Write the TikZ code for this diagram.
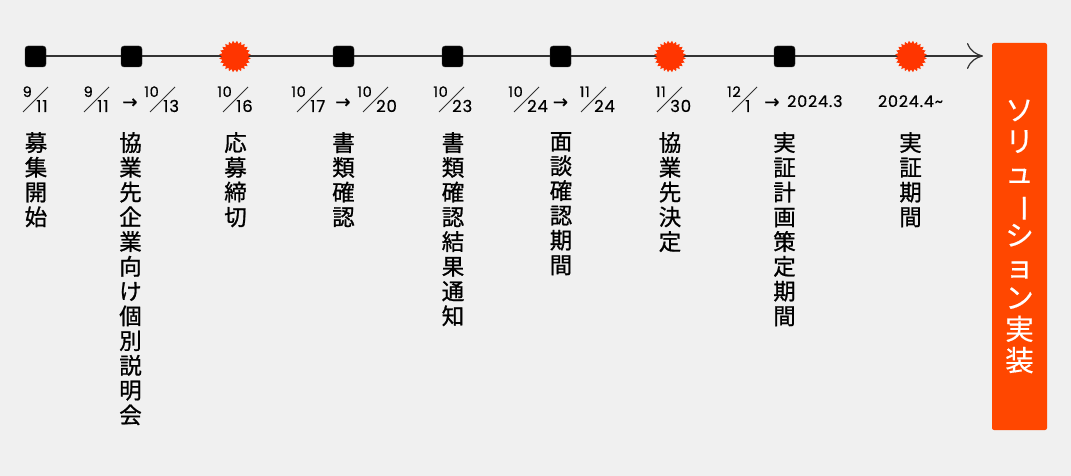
\documentclass[tikz,border=0pt]{standalone}
\usepackage{fontspec}
\setmainfont{Poppins}
\newfontfamily\cjkfont{Noto Sans CJK JP}[FakeBold=0.9]
\newfontfamily\cjkwhite{Noto Sans CJK JP}[FakeBold=0.4]
\newfontfamily\arrowfont{DejaVu Sans}[FakeBold=0.8]
\newfontfamily\digitfont{Poppins}[FakeBold=0.6, LetterSpace=5, Numbers=Monospaced]
\usetikzlibrary{shapes.geometric,arrows.meta}
\definecolor{bgc}{HTML}{F0F0F0}
\definecolor{burstc}{HTML}{FF3500}
\definecolor{boxc}{HTML}{FF4700}
\definecolor{linec}{HTML}{333333}
\tikzset{
  sq/.style={fill=black, draw=black!80, rounded corners=3pt, minimum size=21pt, inner sep=0pt},
  burst/.style={star, star points=24, star point ratio=0.82, fill=burstc, minimum size=26pt, inner sep=0pt},
  numtop/.style={font=\digitfont\fontsize{14.5}{14.5}\selectfont, inner sep=0pt},
  numbot/.style={font=\digitfont\fontsize{16.5}{16.5}\selectfont, inner sep=0pt},
  yeartxt/.style={font=\digitfont\fontsize{16}{16}\selectfont, inner sep=0pt},
  slashline/.style={draw=linec, line width=0.8pt},
  arr/.style={font=\arrowfont\fontsize{18}{18}\selectfont, inner sep=0pt, anchor=base},
  vt/.style={font=\cjkfont\fontsize{22.5}{24.75}\selectfont, align=center, inner sep=0pt, anchor=north},
  mainline/.style={draw=linec, line width=1.2pt},
}
\newcommand\datefrac[4]{%
  \node[numtop, anchor=base east] (#1n) at (#2+9,97) {#3};
  \node[numbot, anchor=base west] (#1d) at (#2+13,112) {#4};
  \coordinate (#1a) at (#2,112);
  \coordinate (#1b) at (#2+25,87);
  \draw[slashline] (#1a) -- (#1b);
}
\begin{document}
\begin{tikzpicture}[x=1pt,y=-1pt]
\fill[bgc] (0,0) rectangle (1071,476);
\useasboundingbox (0,0) rectangle (1071,476);
% timeline
\coordinate (ls) at (30,56);
\coordinate (le) at (983,56);
\draw[mainline, -{Computer Modern Rightarrow[length=16pt,width=26pt,line width=1.2pt]}] (ls) -- (le);
% markers
\node[sq] (m1) at (35.5,56.5) {};
\node[sq] (m2) at (131.5,56.5) {};
\node[burst] (m3) at (235,56.5) {};
\node[sq] (m4) at (343.5,56.5) {};
\node[sq] (m5) at (452.5,56.5) {};
\node[sq] (m6) at (560.5,56.5) {};
\node[burst] (m7) at (670,56.5) {};
\node[sq] (m8) at (784.5,56.5) {};
\node[burst] (m9) at (911,56.5) {};
% dates
\datefrac{d1}{23}{9}{11}
\datefrac{d2a}{84}{9}{11}
\node[arr] (a2) at (130,108) {→};
\datefrac{d2b}{150}{10}{13}
\datefrac{d3}{223}{10}{16}
\datefrac{d4a}{297}{10}{17}
\node[arr] (a4) at (343,108) {→};
\datefrac{d4b}{363}{10}{20}
\datefrac{d5}{439}{10}{23}
\datefrac{d6a}{514}{10}{24}
\node[arr] (a6) at (560.5,108) {→};
\datefrac{d6b}{581}{11}{24}
\datefrac{d7}{657}{11}{30}
\datefrac{d8}{732}{12}{1}
\node[arr] (a8) at (772,108) {→};
\node[yeartxt, anchor=base west] (y8) at (787,107) {2024.3};
\node[yeartxt, anchor=base] (y9) at (910.5,107) {2024.4\char"007E};
% vertical labels
\node[vt] (t1) at (36,132) {募\\集\\開\\始};
\node[vt] (t2) at (130.5,132) {協\\業\\先\\企\\業\\向\\け\\個\\別\\説\\明\\会};
\node[vt] (t3) at (235.5,132) {応\\募\\締\\切};
\node[vt] (t4) at (343.5,132) {書\\類\\確\\認};
\node[vt] (t5) at (453,132) {書\\類\\確\\認\\結\\果\\通\\知};
\node[vt] (t6) at (561,132) {面\\談\\確\\認\\期\\間};
\node[vt] (t7) at (670,132) {協\\業\\先\\決\\定};
\node[vt] (t8) at (784.5,132) {実\\証\\計\\画\\策\\定\\期\\間};
\node[vt] (t9) at (910.5,132) {実\\証\\期\\間};
% final box
\node[fill=boxc, rounded corners=2pt, minimum width=55pt, minimum height=387pt, inner sep=0pt,
      text=white, align=center, font=\cjkwhite\fontsize{28.5}{31.3}\selectfont]
  (box) at (1019.5,236.5) {ソ\\リ\\ュ\\\rotatebox[origin=c]{-90}{ー}\\シ\\ョ\\ン\\実\\装};
\end{tikzpicture}
\end{document}
